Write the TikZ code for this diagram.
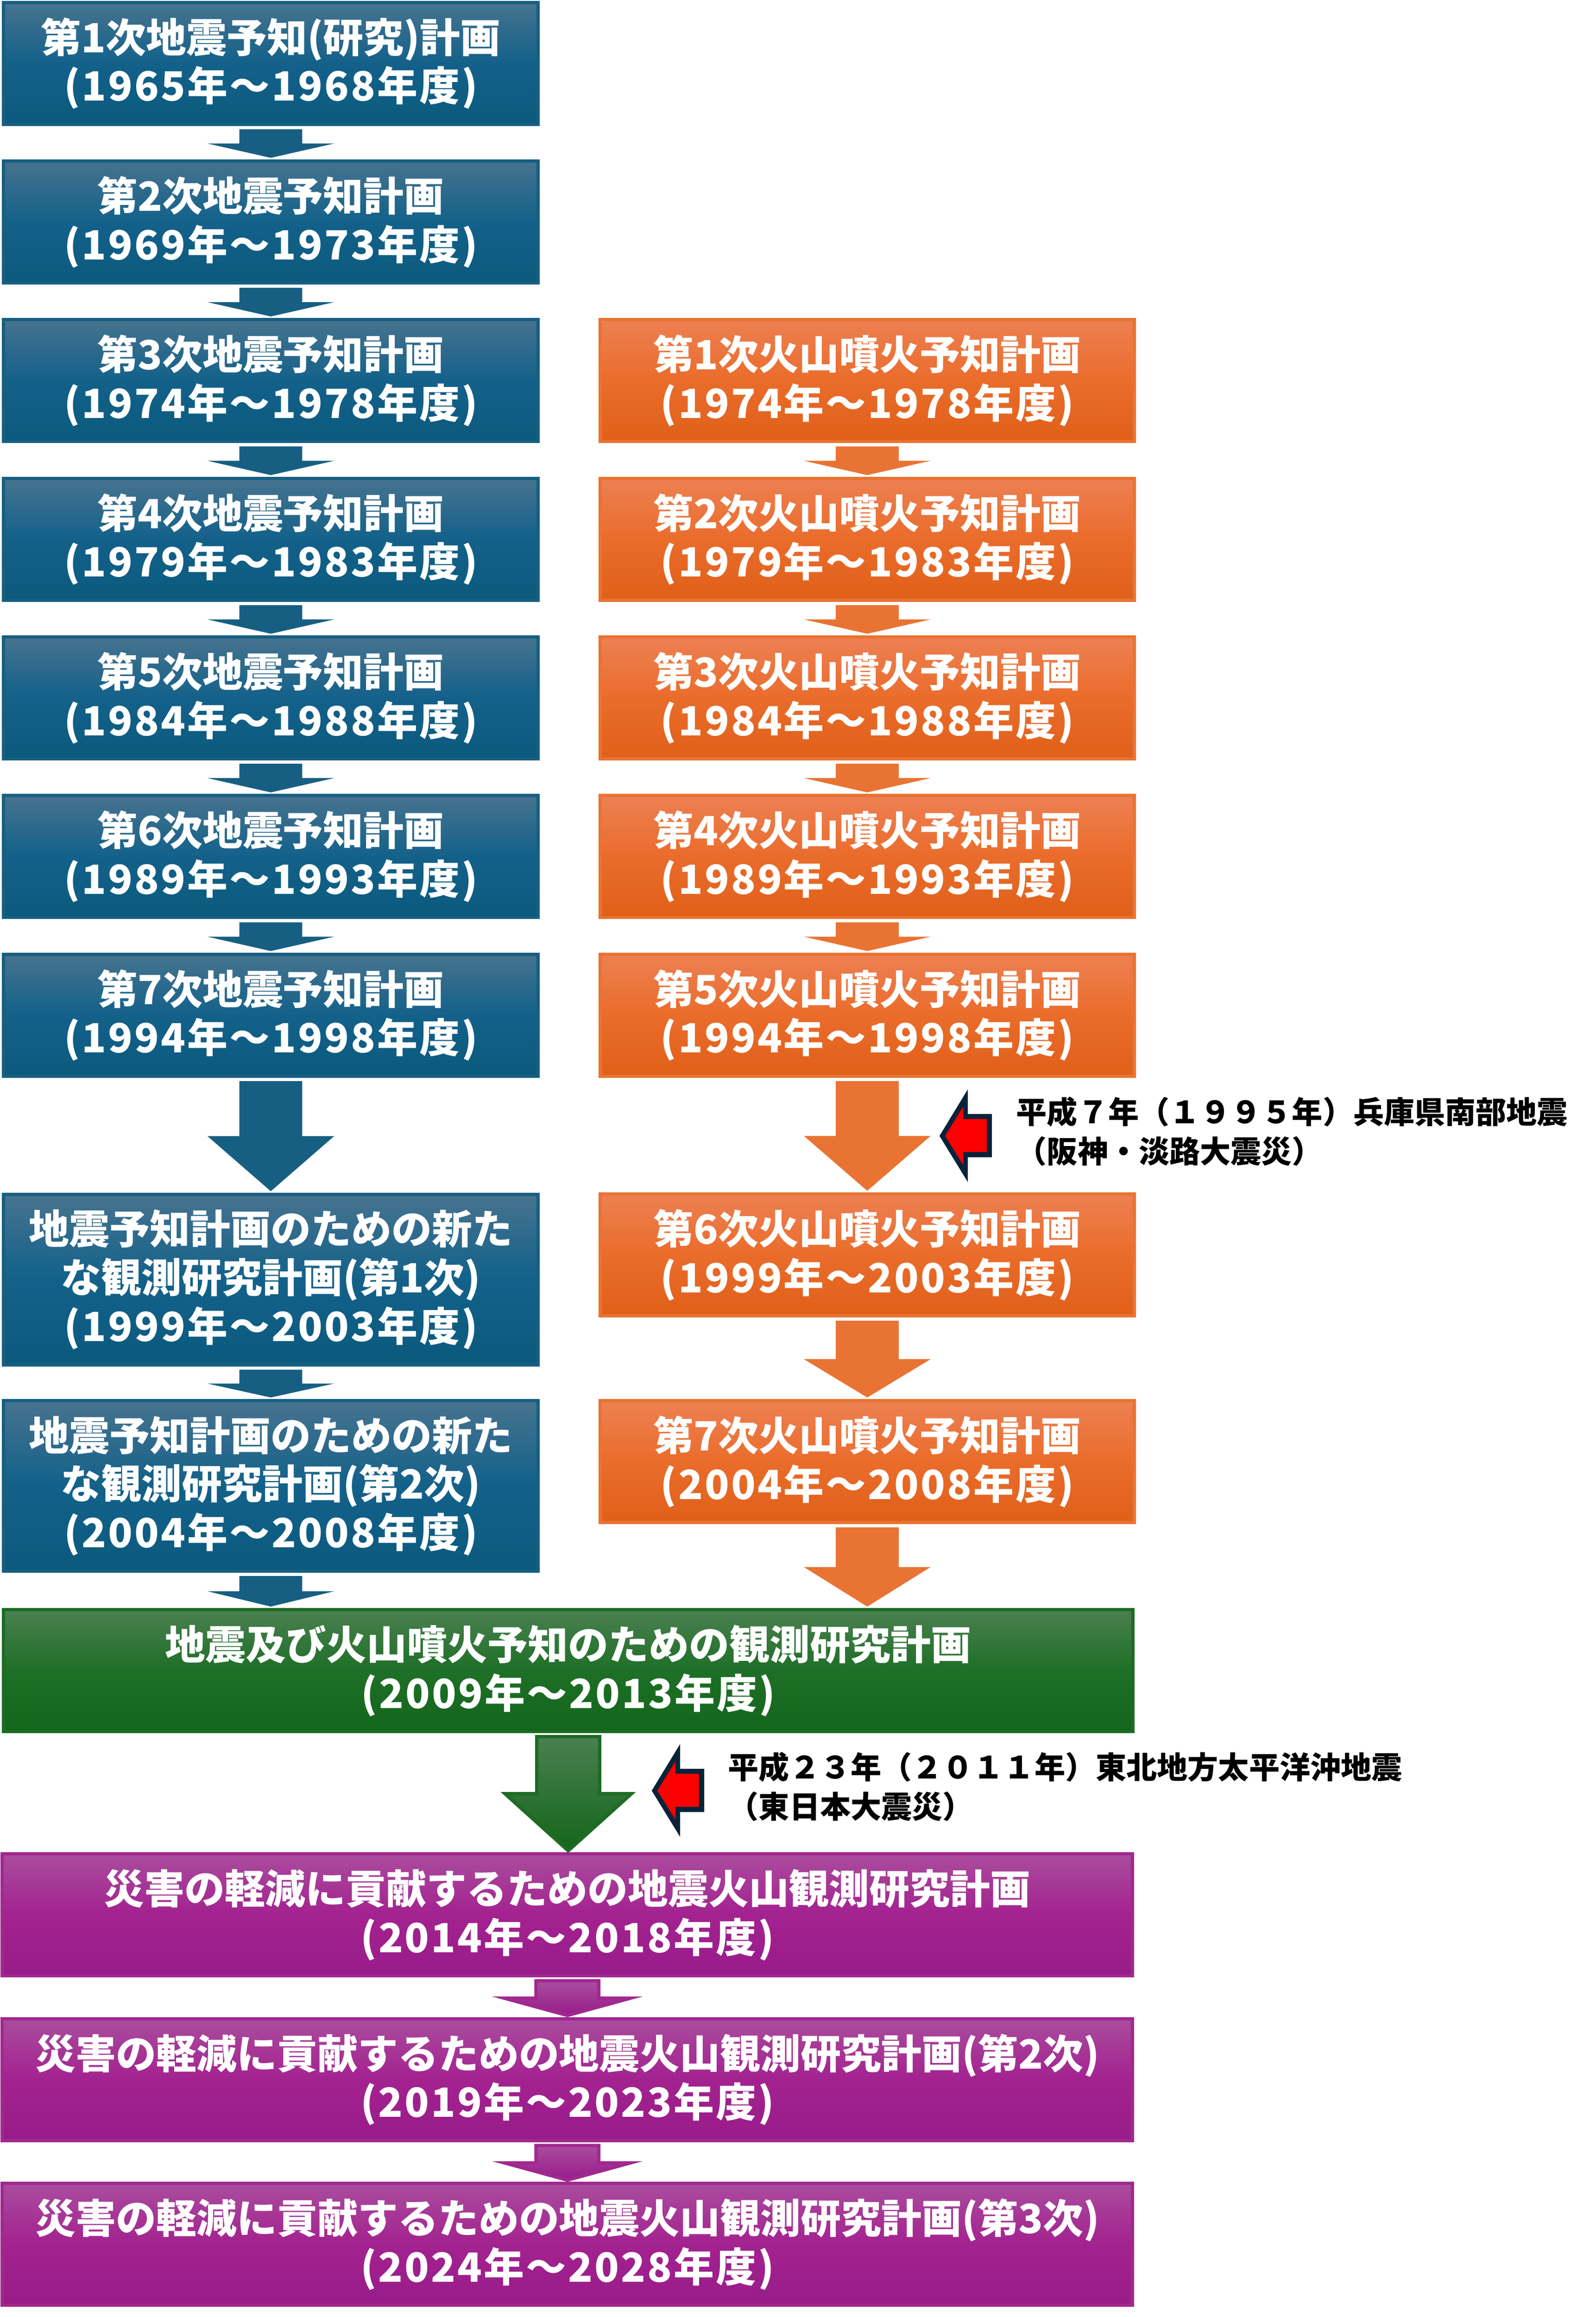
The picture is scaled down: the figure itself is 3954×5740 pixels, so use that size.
\documentclass[tikz,border=0pt]{standalone}
\usepackage{fontspec}
\setmainfont{Noto Sans CJK JP}
\newfontfamily\notefont[RawFeature=+fwid]{Noto Sans CJK JP}
\usepackage{xcolor}
\usepackage{tikz}
\usetikzlibrary{calc}
\definecolor{quakeline}{HTML}{175F82}
\definecolor{quaketop}{HTML}{47738F}
\definecolor{quakemid}{HTML}{13618A}
\definecolor{quakebot}{HTML}{0B5A7D}
\definecolor{volcline}{HTML}{E97333}
\definecolor{volctop}{HTML}{ED8052}
\definecolor{volcmid}{HTML}{EA6C2B}
\definecolor{volcbot}{HTML}{E06019}
\definecolor{jointline}{HTML}{1D6B24}
\definecolor{jointtop}{HTML}{4A8050}
\definecolor{jointmid}{HTML}{1E6F27}
\definecolor{jointbot}{HTML}{13661B}
\definecolor{disline}{HTML}{A0288F}
\definecolor{distop}{HTML}{AA4C9E}
\definecolor{dismid}{HTML}{A3228F}
\definecolor{disbot}{HTML}{971C8A}
\definecolor{alertred}{HTML}{FF0000}
\definecolor{alertdark}{HTML}{06233A}
% period line of a plan, set a little wider
\newcommand{\years}[2]{{\addfontfeatures{LetterSpace=4.6}(#1年～#2年度)}}
% block arrow from one box down to the next
\newcommand{\planarrow}[3][]{%
  \path[#1] let \p1=($(#2.south)+(0,8)$), \p2=($(#3.north)+(0,-4)$),
    \p3=($(\p1)!.5!(\x1,\y2)$) in
    (\x1-3.9mm,\y1) -- (\x1+3.9mm,\y1) -- (\x1+3.9mm,\y3) -- (\x1+7.85mm,\y3)
    -- (\x1,\y2) -- (\x1-7.85mm,\y3) -- (\x1-3.9mm,\y3) -- cycle;}
% red arrow pointing left, tip at #1
\newcommand{\alertarrow}[1]{%
  \fill[alertdark] (#1) -- ++(70,-115) -- ++(0,61) -- ++(60,0) -- ++(0,107)
    -- ++(-60,0) -- ++(0,61) -- cycle;
  \fill[alertred] ($(#1)+(14,0)$) -- ++(45,-73) -- ++(0,31) -- ++(58,0)
    -- ++(0,82) -- ++(-58,0) -- ++(0,32) -- cycle;}

\begin{document}
\begin{tikzpicture}[x=0.05mm,y=-0.05mm,
  plan/.style={draw, line width=0.4mm, text=white, align=center, inner sep=0pt,
    font={\fontsize{14.2pt}{17.1pt}\selectfont\bfseries}, minimum height=15.1mm},
  quakebox/.style={plan, draw=quakeline, top color=quaketop, bottom color=quakebot,
    middle color=quakemid, minimum width=66.2mm},
  volcbox/.style={plan, draw=volcline, top color=volctop, bottom color=volcbot,
    middle color=volcmid, minimum width=66.2mm},
  jointbox/.style={plan, draw=jointline, top color=jointtop, bottom color=jointbot,
    middle color=jointmid, minimum width=139.95mm},
  disbox/.style={plan, draw=disline, top color=distop, bottom color=disbot,
    middle color=dismid, minimum width=140.05mm},
  quakearrow/.style={fill=quakeline},
  volcarrow/.style={fill=volcline},
  jointarrow/.style={draw=jointline, line width=0.4mm, top color=jointtop, bottom color=jointbot},
  disarrow/.style={draw=disline, line width=0.4mm, top color=distop, bottom color=disbot},
  note/.style={font={\notefont\fontsize{10.8pt}{13.9pt}\selectfont\bfseries},
    align=left, inner sep=0pt, anchor=west}]
  \useasboundingbox (0,0) rectangle (3954,5740);

  % earthquake plans
  \node[quakebox] (q1) at (671,157) {第1次地震予知(研究)計画\\\years{1965}{1968}};
  \node[quakebox] (q2) at (671,550) {第2次地震予知計画\\\years{1969}{1973}};
  \node[quakebox] (q3) at (671,943) {第3次地震予知計画\\\years{1974}{1978}};
  \node[quakebox] (q4) at (671,1336) {第4次地震予知計画\\\years{1979}{1983}};
  \node[quakebox] (q5) at (671,1729) {第5次地震予知計画\\\years{1984}{1988}};
  \node[quakebox] (q6) at (671,2122) {第6次地震予知計画\\\years{1989}{1993}};
  \node[quakebox] (q7) at (671,2515) {第7次地震予知計画\\\years{1994}{1998}};
  \node[quakebox, minimum height=21.1mm] (q8) at (671,3170)
    {地震予知計画のための新た\\な観測研究計画(第1次)\\\years{1999}{2003}};
  \node[quakebox, minimum height=21.1mm] (q9) at (671,3681)
    {地震予知計画のための新た\\な観測研究計画(第2次)\\\years{2004}{2008}};

  % volcano plans
  \node[volcbox] (v1) at (2149,943) {第1次火山噴火予知計画\\\years{1974}{1978}};
  \node[volcbox] (v2) at (2149,1336) {第2次火山噴火予知計画\\\years{1979}{1983}};
  \node[volcbox] (v3) at (2149,1729) {第3次火山噴火予知計画\\\years{1984}{1988}};
  \node[volcbox] (v4) at (2149,2122) {第4次火山噴火予知計画\\\years{1989}{1993}};
  \node[volcbox] (v5) at (2149,2515) {第5次火山噴火予知計画\\\years{1994}{1998}};
  \node[volcbox] (v6) at (2149,3109) {第6次火山噴火予知計画\\\years{1999}{2003}};
  \node[volcbox] (v7) at (2149,3621) {第7次火山噴火予知計画\\\years{2004}{2008}};

  % joint plans
  \node[jointbox] (joint) at (1408,4139) {地震及び火山噴火予知のための観測研究計画\\\years{2009}{2013}};
  \node[disbox] (d1) at (1406,4744) {災害の軽減に貢献するための地震火山観測研究計画\\\years{2014}{2018}};
  \node[disbox] (d2) at (1406,5152) {災害の軽減に貢献するための地震火山観測研究計画(第2次)\\\years{2019}{2023}};
  \node[disbox] (d3) at (1406,5560) {災害の軽減に貢献するための地震火山観測研究計画(第3次)\\\years{2024}{2028}};

  \foreach \a/\b in {q1/q2,q2/q3,q3/q4,q4/q5,q5/q6,q6/q7,q7/q8,q8/q9,q9/joint}
    \planarrow[quakearrow]{\a}{\b};
  \foreach \a/\b in {v1/v2,v2/v3,v3/v4,v4/v5,v5/v6,v6/v7,v7/joint}
    \planarrow[volcarrow]{\a}{\b};
  \planarrow[jointarrow]{joint}{d1};
  \planarrow[disarrow]{d1}{d2};
  \planarrow[disarrow]{d2}{d3};

  % disasters
  \node[note] (kobe) at (2517,2803) {平成7年（1995年）兵庫県南部地震\\（阪神・淡路大震災）};
  \node[note] (tohoku) at (1803,4426) {平成23年（2011年）東北地方太平洋沖地震\\（東日本大震災）};
  \coordinate (kobetip) at ($(kobe.west)+(-189,11)$);
  \coordinate (tohokutip) at ($(tohoku.west)+(-188,10)$);
  \alertarrow{kobetip}
  \alertarrow{tohokutip}
\end{tikzpicture}
\end{document}
